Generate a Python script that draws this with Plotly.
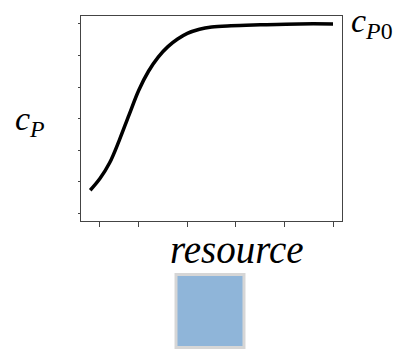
import plotly.graph_objects as go

# resource (arbitrary units) vs normalised c_P
resource = [0, 0.4, 0.8, 1.2, 1.6, 2.0, 2.4, 2.8, 3.2, 3.6, 4.0, 4.5, 5.0, 5.8, 7.0, 8.6, 10]
cp = [0.473, 0.510, 0.560, 0.632, 0.712, 0.790, 0.850, 0.895, 0.928, 0.952, 0.970, 0.983, 0.990, 0.994, 0.997, 1.0, 1.0]

x_ticks = [0.4, 2, 4, 6, 8, 10]
y_ticks = [0.4, 0.5, 0.6, 0.7, 0.8, 0.9, 1.0]

math_font = dict(family="Liberation Serif", color="black")

fig = go.Figure()
fig.add_trace(go.Scatter(
    x=resource, y=cp, mode="lines",
    line=dict(color="black", width=3.5, shape="spline"),
    showlegend=False, hoverinfo="skip",
))

axis_style = dict(
    showline=True, mirror=True, linecolor="#444", linewidth=1,
    showgrid=False, zeroline=False, showticklabels=False,
    ticks="outside", tickcolor="#444", tickwidth=1,
)
fig.update_xaxes(range=[-0.38, 10.37], tickvals=x_ticks, ticklen=5, **axis_style)
fig.update_yaxes(range=[0.3756, 1.025], tickvals=y_ticks, ticklen=2, **axis_style)

fig.add_annotation(text="<i>c</i><sub><i>P</i></sub>", xref="paper", yref="paper",
                   x=-0.197, y=0.49, xanchor="center", yanchor="middle",
                   showarrow=False, font=dict(size=34, **math_font))
fig.add_annotation(text="<i>c</i><sub><i>P</i>0</sub>", xref="paper", yref="paper",
                   x=1.027, y=0.965, xanchor="left", yanchor="middle",
                   showarrow=False, font=dict(size=34, **math_font))
fig.add_annotation(text="<i>resource</i>", xref="paper", yref="paper",
                   x=0.5996, y=-0.138, xanchor="center", yanchor="middle",
                   showarrow=False, font=dict(size=39, **math_font))

# legend-like swatch below the axis title
fig.add_shape(type="rect", xref="paper", yref="paper",
              x0=0.364, x1=0.6245, y0=-0.617, y1=-0.2604,
              fillcolor="#8fb5d9", line=dict(color="#d6d6d6", width=3))

fig.update_layout(
    width=400, height=341,
    margin=dict(l=73, r=66, t=8, b=128),
    plot_bgcolor="white", paper_bgcolor="white",
)
fig.write_html("out.html")
